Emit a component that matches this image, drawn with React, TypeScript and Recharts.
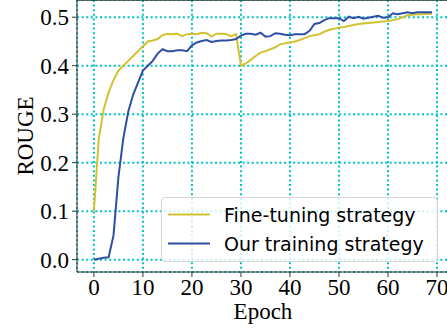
import {
  LineChart,
  Line,
  XAxis,
  YAxis,
  CartesianGrid,
  Legend,
  Label,
  ReferenceLine,
} from "recharts";

const fineTuning = [
  0.1, 0.25, 0.31, 0.345, 0.37, 0.39, 0.4, 0.41, 0.42, 0.43,
  0.44, 0.45, 0.452, 0.455, 0.463, 0.466, 0.465, 0.466, 0.461, 0.465,
  0.466, 0.465, 0.468, 0.467, 0.46, 0.466, 0.466, 0.465, 0.461, 0.465,
  0.4, 0.405, 0.412, 0.42, 0.427, 0.43, 0.434, 0.438, 0.444, 0.446,
  0.448, 0.45, 0.453, 0.457, 0.461, 0.463, 0.465, 0.47, 0.474, 0.476,
  0.479, 0.48, 0.482, 0.484, 0.486, 0.487, 0.488, 0.489, 0.49, 0.491,
  0.492, 0.494, 0.496, 0.5, 0.504, 0.505, 0.506, 0.506, 0.507, 0.507,
];

const ourTraining = [
  0.0, 0.002, 0.004, 0.005, 0.05, 0.17, 0.25, 0.305, 0.34, 0.365,
  0.39, 0.4, 0.41, 0.425, 0.434, 0.43, 0.43, 0.432, 0.432, 0.43,
  0.442, 0.448, 0.451, 0.453, 0.449, 0.451, 0.452, 0.452, 0.453, 0.455,
  0.462, 0.466, 0.466, 0.464, 0.468, 0.46, 0.461, 0.467, 0.466, 0.464,
  0.463, 0.465, 0.465, 0.465, 0.472, 0.486, 0.488, 0.494, 0.498, 0.498,
  0.498, 0.492, 0.501, 0.498, 0.501, 0.497, 0.499, 0.501, 0.503, 0.499,
  0.5, 0.508, 0.506, 0.508, 0.51, 0.508, 0.51, 0.51, 0.51, 0.51,
];

const xTicks = [0, 10, 20, 30, 40, 50, 60, 70];
const yTicks = [0, 0.1, 0.2, 0.3, 0.4, 0.5];

const data = fineTuning.map((v, i) => ({
  epoch: i,
  fine: v,
  ours: ourTraining[i],
}));

const serif = "'Liberation Serif', 'Times New Roman', serif";
const sans = "'DejaVu Sans', sans-serif";
const yellow = "#d2c232";
const blue = "#2e4fa3";
const grid = "#00c2c2";

const LegendBox = ({ payload }: any) => (
  <div
    style={{
      boxSizing: "border-box",
      width: 277,
      height: 65,
      paddingTop: 2,
      border: "1px solid #d6d6d6",
      borderRadius: 4,
      background: "rgba(255,255,255,0.8)",
      fontFamily: sans,
      fontSize: 19,
      color: "#000",
    }}
  >
    {(payload || []).map((p: any) => (
      <div
        key={p.value}
        style={{ height: 29, display: "flex", alignItems: "center" }}
      >
        <svg width={56} height={29} style={{ flex: "none" }}>
          <line x1={6} x2={48} y1={14.5} y2={14.5} stroke={p.color} strokeWidth={2} />
        </svg>
        <span style={{ marginLeft: 6 }}>{p.value}</span>
      </div>
    ))}
  </div>
);

export default function App() {
  return (
    <div
      style={{
        position: "fixed",
        left: 0,
        top: 0,
        width: 447,
        height: 328,
        overflow: "hidden",
        background: "#fff",
      }}
    >
      <LineChart
        width={449}
        height={328}
        data={data}
        margin={{ top: 0, right: 0, left: 0, bottom: 0 }}
      >
        <CartesianGrid
          stroke={grid}
          strokeWidth={2}
          strokeDasharray="2 2.6"
        />
        <XAxis
          dataKey="epoch"
          type="number"
          domain={[-3.45, 72.45]}
          ticks={xTicks}
          allowDataOverflow
          height={56}
          stroke="#333"
          tickSize={5}
          tickMargin={2}
          tick={{ fill: "#000", fontFamily: serif, fontSize: 23 }}
        >
          <Label
            content={() => (
              <text
                x={263}
                y={319}
                textAnchor="middle"
                fontFamily={serif}
                fontSize={23}
                fill="#000"
              >
                Epoch
              </text>
            )}
          />
        </XAxis>
        <YAxis
          type="number"
          domain={[-0.0255, 0.5355]}
          ticks={yTicks}
          allowDataOverflow
          width={77}
          stroke="#333"
          tickSize={5}
          tickMargin={3}
          tickFormatter={(v: number) => v.toFixed(1)}
          tick={{ fill: "#000", fontFamily: serif, fontSize: 23 }}
        >
          <Label
            content={() => (
              <text
                x={33}
                y={136}
                transform="rotate(-90 33 136)"
                textAnchor="middle"
                fontFamily={serif}
                fontSize={23}
                fill="#000"
              >
                ROUGE
              </text>
            )}
          />
        </YAxis>
        <ReferenceLine y={0.5355} stroke="#333" strokeWidth={1.5} />
        <Line
          type="linear"
          dataKey="fine"
          name="Fine-tuning strategy"
          stroke={yellow}
          strokeWidth={2}
          dot={false}
          isAnimationActive={false}
        />
        <Line
          type="linear"
          dataKey="ours"
          name="Our training strategy"
          stroke={blue}
          strokeWidth={2}
          dot={false}
          isAnimationActive={false}
        />
        <Legend
          layout="vertical"
          align="center"
          verticalAlign="middle"
          content={<LegendBox />}
          wrapperStyle={{ position: "absolute", left: 161, top: 197, width: 277, height: 65 }}
        />
      </LineChart>
    </div>
  );
}
